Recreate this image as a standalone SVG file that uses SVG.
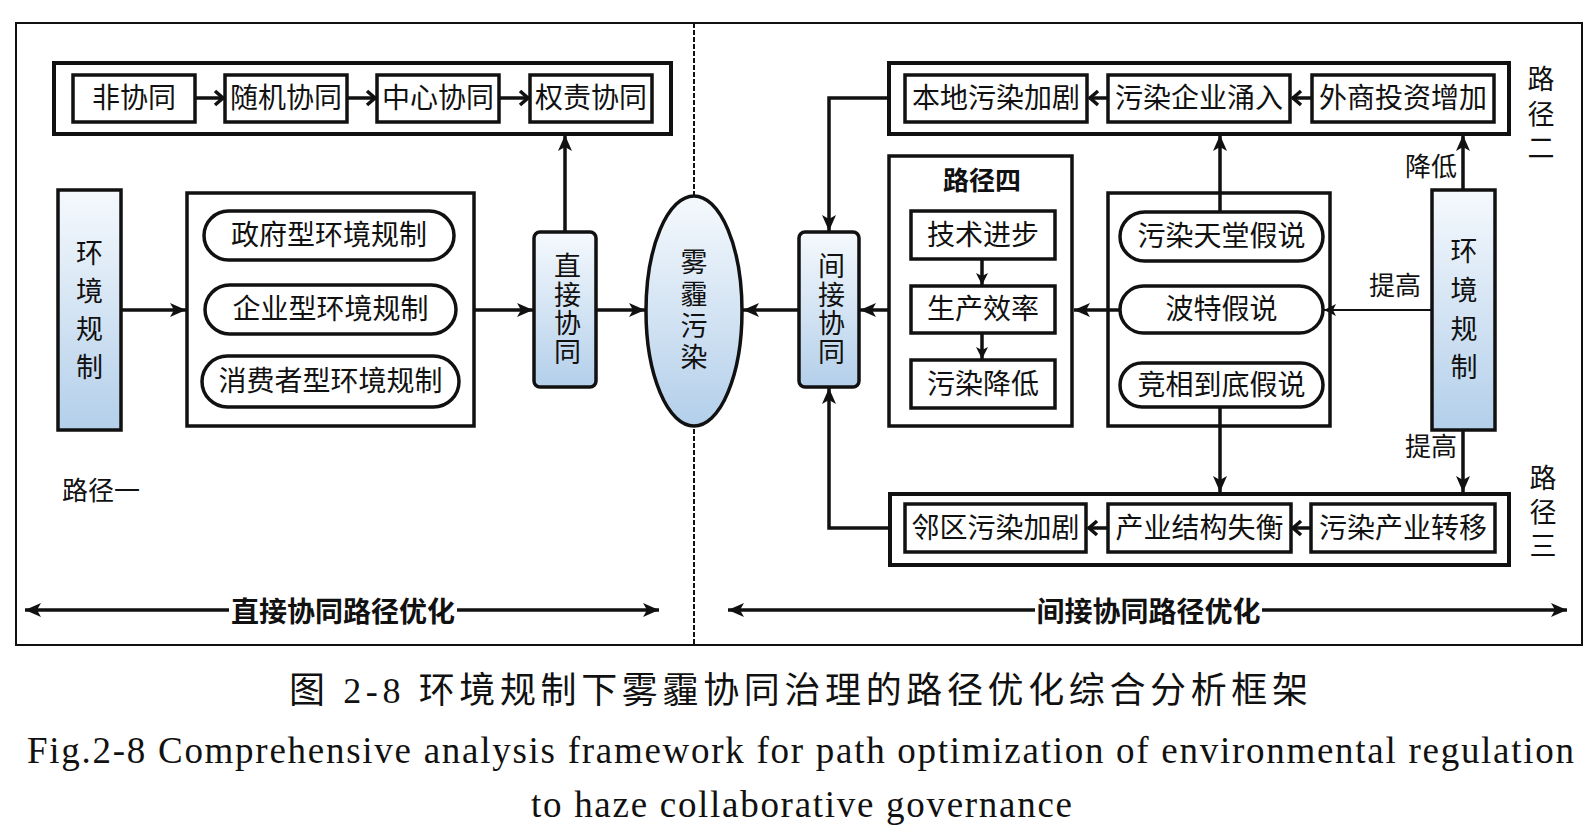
<svg xmlns="http://www.w3.org/2000/svg" width="1590" height="836" viewBox="0 0 1590 836">
<style>
.frame{fill:none;stroke:#111;stroke-width:2}
.grp{fill:#fff;stroke:#111;stroke-width:4}
.box{fill:#fff;stroke:#111;stroke-width:3.5}
.blue{fill:url(#bg);stroke:#111;stroke-width:3.5}
.ln{fill:none;stroke:#111;stroke-width:3.5}
.thin{fill:none;stroke:#111;stroke-width:2}
.t{font-family:"Liberation Serif","Noto Sans CJK SC",serif;font-size:28px;fill:#111;text-anchor:middle;dominant-baseline:central}
.s{font-family:"Noto Sans CJK SC",sans-serif;font-size:27px;fill:#111;text-anchor:middle;dominant-baseline:central}
.v{font-family:"Noto Sans CJK SC",sans-serif;font-size:27px;fill:#111;text-anchor:middle;writing-mode:vertical-rl}
.b{font-family:"Noto Sans CJK SC",sans-serif;font-size:26px;font-weight:bold;fill:#111;text-anchor:middle;dominant-baseline:central}
.cap{font-family:"Liberation Serif","Noto Sans CJK SC",serif;fill:#111}
</style>
<defs>
<linearGradient id="bg" x1="0" y1="0" x2="0" y2="1">
<stop offset="0" stop-color="#f5f9fd"/>
<stop offset="1" stop-color="#b3cfea"/>
</linearGradient>
<marker id="ah" markerUnits="userSpaceOnUse" markerWidth="18" markerHeight="16" refX="16" refY="8" orient="auto-start-reverse">
<path d="M0,1 L16,8 L0,15 L4,8 z" fill="#111"/>
</marker>
<marker id="ahs" markerUnits="userSpaceOnUse" markerWidth="14" markerHeight="12" refX="12" refY="6" orient="auto">
<path d="M0,0 L12,6 L0,12 L3,6 z" fill="#111"/>
</marker>
<marker id="ch" markerUnits="userSpaceOnUse" markerWidth="14" markerHeight="18" refX="11" refY="9" orient="auto">
<path d="M2,2 L10,9 L2,16" fill="none" stroke="#111" stroke-width="3.5"/>
</marker>
</defs>
<rect width="1590" height="836" fill="#fff"/>
<rect class="frame" x="16" y="23" width="1566" height="622"/>
<line x1="694" y1="23" x2="694" y2="645" stroke="#111" stroke-width="2" stroke-dasharray="5,2"/>

<g id="top-left-group"><rect class="grp" x="54" y="63" width="617" height="71"/></g>
<g id="top-right-group"><rect class="grp" x="889" y="63" width="620" height="71"/></g>
<g id="bottom-right-group"><rect class="grp" x="890" y="494" width="619" height="71"/></g>
<g id="n-types"><rect class="box" x="187" y="193" width="287" height="233"/></g>
<g id="n-path4"><rect class="box" x="889" y="156" width="183" height="270"/>
<text class="b" x="982" y="178">路径四</text></g>
<g id="n-hyp"><rect class="box" x="1108" y="193" width="222" height="233"/></g>

<g id="connectors">
<line class="ln" x1="195" y1="98" x2="224" y2="98" marker-end="url(#ch)"/>
<line class="ln" x1="347" y1="98" x2="376" y2="98" marker-end="url(#ch)"/>
<line class="ln" x1="499" y1="98" x2="529" y2="98" marker-end="url(#ch)"/>
<line class="ln" x1="121" y1="310" x2="186" y2="310" marker-end="url(#ah)"/>
<line class="ln" x1="474" y1="310" x2="533" y2="310" marker-end="url(#ah)"/>
<line class="ln" x1="596" y1="310" x2="645" y2="310" marker-end="url(#ah)"/>
<line class="ln" x1="565" y1="232" x2="565" y2="135" marker-end="url(#ah)"/>
<line class="ln" x1="1108" y1="98" x2="1089" y2="98" marker-end="url(#ch)"/>
<line class="ln" x1="1312" y1="98" x2="1292" y2="98" marker-end="url(#ch)"/>
<polyline class="ln" points="889,98 829,98 829,231" marker-end="url(#ah)"/>
<polyline class="ln" points="889,528 829,528 829,388" marker-end="url(#ah)"/>
<line class="ln" x1="889" y1="310" x2="860" y2="310" marker-end="url(#ah)"/>
<line class="ln" x1="799" y1="310" x2="743" y2="310" marker-end="url(#ah)"/>
<line class="ln" x1="982" y1="259" x2="982" y2="285" marker-end="url(#ahs)"/>
<line class="ln" x1="982" y1="333" x2="982" y2="359" marker-end="url(#ahs)"/>
<line class="ln" x1="1120" y1="310" x2="1074" y2="310" marker-end="url(#ah)"/>
<line class="ln" x1="1220" y1="212" x2="1220" y2="135" marker-end="url(#ah)"/>
<line class="ln" x1="1220" y1="407" x2="1220" y2="492" marker-end="url(#ah)"/>
<line class="thin" x1="1432" y1="310" x2="1324" y2="310" marker-end="url(#ahs)"/>
<line class="ln" x1="1463" y1="190" x2="1463" y2="135" marker-end="url(#ah)"/>
<line class="ln" x1="1463" y1="430" x2="1463" y2="492" marker-end="url(#ah)"/>
<line class="ln" x1="1108" y1="528" x2="1088" y2="528" marker-end="url(#ch)"/>
<line class="ln" x1="1311" y1="528" x2="1292" y2="528" marker-end="url(#ch)"/>
<line class="ln" x1="25" y1="610" x2="659" y2="610" marker-start="url(#ah)" marker-end="url(#ah)"/>
<line class="ln" x1="728" y1="610" x2="1567" y2="610" marker-start="url(#ah)" marker-end="url(#ah)"/>
</g>

<g id="n-fei"><rect class="box" x="73" y="75" width="122" height="47"/><text class="t" x="134" y="98.5">非协同</text></g>
<g id="n-suiji"><rect class="box" x="225" y="75" width="122" height="47"/><text class="t" x="286" y="98.5">随机协同</text></g>
<g id="n-zhongxin"><rect class="box" x="377" y="75" width="122" height="47"/><text class="t" x="438" y="98.5">中心协同</text></g>
<g id="n-quanze"><rect class="box" x="530" y="75" width="122" height="47"/><text class="t" x="591" y="98.5">权责协同</text></g>

<g id="n-env-left"><rect class="blue" x="58" y="190" width="63" height="240"/>
<text class="v" x="89.5" y="315" letter-spacing="11">环境规制</text></g>

<g id="n-gov"><rect class="box" x="204" y="211" width="250" height="49" rx="24.5"/><text class="t" x="329" y="235.5">政府型环境规制</text></g>
<g id="n-ent"><rect class="box" x="205" y="285" width="251" height="49" rx="24.5"/><text class="t" x="330.5" y="309.5">企业型环境规制</text></g>
<g id="n-con"><rect class="box" x="202" y="356" width="257" height="51" rx="25.5"/><text class="t" x="330.5" y="381.5">消费者型环境规制</text></g>

<g id="n-direct"><rect class="blue" x="534" y="232" width="62" height="155" rx="6"/>
<text class="v" x="565" y="309.5" letter-spacing="1.5" style="font-family:'Liberation Serif','Noto Sans CJK SC',serif;font-size:27px">直接协同</text></g>

<g id="n-haze"><ellipse class="blue" cx="694" cy="311" rx="48" ry="115"/>
<text class="v" x="694" y="312" letter-spacing="4.7">雾霾污染</text></g>

<g id="n-indirect"><rect class="blue" x="799" y="232" width="60" height="155" rx="6"/>
<text class="v" x="829" y="309.5" letter-spacing="1.5" style="font-family:'Liberation Serif','Noto Sans CJK SC',serif;font-size:27px">间接协同</text></g>

<g id="n-bendi"><rect class="box" x="905" y="75" width="182" height="47"/><text class="t" x="996" y="98.5">本地污染加剧</text></g>
<g id="n-yongru"><rect class="box" x="1108" y="75" width="182" height="47"/><text class="t" x="1199" y="98.5">污染企业涌入</text></g>
<g id="n-waishang"><rect class="box" x="1312" y="75" width="182" height="47"/><text class="t" x="1403" y="98.5">外商投资增加</text></g>

<g id="n-tech"><rect class="box" x="911" y="211" width="144" height="48"/><text class="t" x="983" y="235">技术进步</text></g>
<g id="n-eff"><rect class="box" x="911" y="286" width="144" height="47"/><text class="t" x="983" y="309.5">生产效率</text></g>
<g id="n-down"><rect class="box" x="911" y="360" width="144" height="48"/><text class="t" x="983" y="384">污染降低</text></g>

<g id="n-haven"><rect class="box" x="1120" y="212" width="203" height="49" rx="24.5"/><text class="t" x="1221.5" y="236.5">污染天堂假说</text></g>
<g id="n-porter"><rect class="box" x="1120" y="286" width="203" height="47" rx="23.5"/><text class="t" x="1221.5" y="309.5">波特假说</text></g>
<g id="n-race"><rect class="box" x="1120" y="363" width="203" height="44" rx="22"/><text class="t" x="1221.5" y="385">竞相到底假说</text></g>

<g id="n-env-right"><rect class="blue" x="1432" y="190" width="63" height="240"/>
<text class="v" x="1464" y="315" letter-spacing="11.7">环境规制</text></g>

<g id="n-linqu"><rect class="box" x="905" y="504" width="181" height="48"/><text class="t" x="995.5" y="528">邻区污染加剧</text></g>
<g id="n-shiheng"><rect class="box" x="1108" y="504" width="183" height="48"/><text class="t" x="1199.5" y="528">产业结构失衡</text></g>
<g id="n-zhuanyi"><rect class="box" x="1311" y="504" width="184" height="48"/><text class="t" x="1403" y="528">污染产业转移</text></g>

<g id="labels">
<text class="t" x="1431" y="167" style="font-size:26px">降低</text>
<text class="t" x="1395" y="286" style="font-size:26px">提高</text>
<text class="t" x="1431" y="447" style="font-size:26px">提高</text>
<text class="v" x="1541" y="117" letter-spacing="7.5">路径二</text>
<text class="v" x="1543" y="515" letter-spacing="7">路径三</text>
<text class="s" x="101" y="488" style="font-size:26px">路径一</text>
<rect x="229" y="594" width="228" height="32" fill="#fff"/>
<text class="b" x="343" y="610" style="font-size:28px">直接协同路径优化</text>
<rect x="1035" y="594" width="227" height="32" fill="#fff"/>
<text class="b" x="1148.5" y="610" style="font-size:28px">间接协同路径优化</text>
</g>

<g id="caption">
<text class="cap" x="289" y="703" font-size="36" textLength="1019" lengthAdjust="spacing">图 2-8 环境规制下雾霾协同治理的路径优化综合分析框架</text>
<text class="cap" x="27" y="763" font-size="37" textLength="1547" lengthAdjust="spacing">Fig.2-8 Comprehensive analysis framework for path optimization of environmental regulation</text>
<text class="cap" x="531" y="817" font-size="37" textLength="541" lengthAdjust="spacing">to haze collaborative governance</text>
</g>
</svg>
